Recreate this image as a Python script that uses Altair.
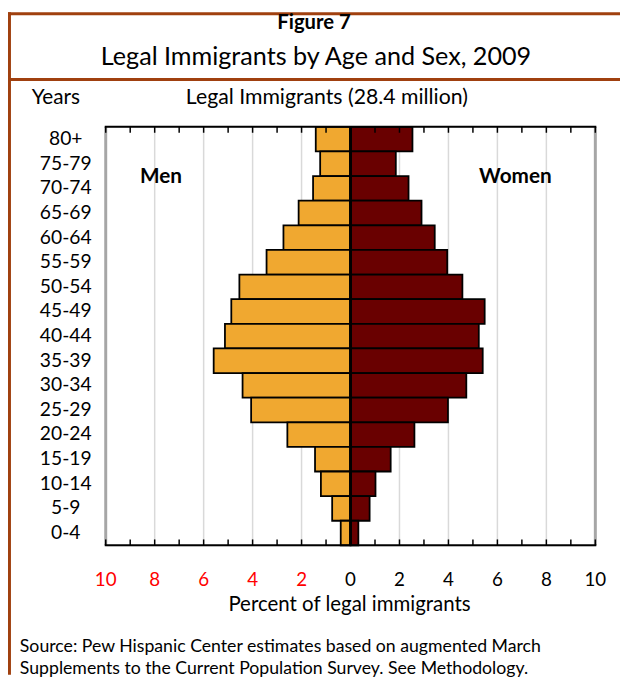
import altair as alt
import pandas as pd

# ---- data ----
ages = ["80+", "75-79", "70-74", "65-69", "60-64", "55-59", "50-54", "45-49",
        "40-44", "35-39", "30-34", "25-29", "20-24", "15-19", "10-14", "5-9", "0-4"]
men = [1.42, 1.24, 1.53, 2.12, 2.74, 3.43, 4.54, 4.87, 5.13, 5.59, 4.41, 4.06,
       2.58, 1.45, 1.21, 0.75, 0.40]
women = [2.53, 1.85, 2.37, 2.90, 3.44, 3.95, 4.57, 5.48, 5.24, 5.40, 4.73, 3.98,
         2.61, 1.64, 1.02, 0.78, 0.32]
label_values = [-10, -8, -6, -4, -2, 0, 2, 4, 6, 8, 10]
grid_values = [-8, -6, -4, -2, 2, 4, 6, 8]
border_values = [-10, 10]
tick_values = list(range(-10, 11))

TITLE = "Figure 7"
SUBTITLE = "Legal Immigrants by Age and Sex, 2009"
Y_TITLE = "Years"
TOP_TITLE = "Legal Immigrants (28.4 million)"
X_TITLE = "Percent of legal immigrants"
SOURCE_1 = "Source: Pew Hispanic Center estimates based on augmented March"
SOURCE_2 = "Supplements to the Current Population Survey. See Methodology."

FONT = "Lato"
W, H = 496, 424
FRAME = "#A0400F"

bars = pd.DataFrame(
    [{"age": a, "sex": "Men", "value": -v} for a, v in zip(ages, men)]
    + [{"age": a, "sex": "Women", "value": v} for a, v in zip(ages, women)]
)

xscale = alt.Scale(domain=[-10, 10], nice=False, zero=False)
yscale = alt.Scale(paddingInner=0, paddingOuter=0)

grid = alt.Chart(pd.DataFrame({"v": grid_values})).mark_rule(
    color="#d9d9d9", strokeWidth=1.5
).encode(x=alt.X("v:Q", scale=xscale, axis=None))

bar = alt.Chart(bars).mark_bar(stroke="black", strokeWidth=1.8).encode(
    x=alt.X("value:Q", scale=xscale, stack=None, axis=None),
    y=alt.Y("age:N", sort=ages, scale=yscale,
            axis=alt.Axis(title=None, ticks=False, domain=False, labelAlign="center",
                          labelPadding=41, labelFontSize=19.5, labelFont=FONT,
                          labelColor="black")),
    color=alt.Color("sex:N", scale=alt.Scale(domain=["Men", "Women"],
                                             range=["#F0A830", "#690000"]), legend=None),
)

borders = alt.Chart(pd.DataFrame({"v": border_values})).mark_rule(
    color="#a6a6a6", strokeWidth=3
).encode(x=alt.X("v:Q", scale=xscale, axis=None))

zero = alt.Chart(pd.DataFrame({"v": [0]})).mark_rule(color="black", strokeWidth=3).encode(
    x=alt.X("v:Q", scale=xscale, axis=None))

ticks_top = alt.Chart(pd.DataFrame({"v": tick_values})).mark_rule(color="black", strokeWidth=1.5).encode(
    x=alt.X("v:Q", scale=xscale, axis=None), y=alt.value(0), y2=alt.value(6))
ticks_bot = alt.Chart(pd.DataFrame({"v": tick_values})).mark_rule(color="black", strokeWidth=1.5).encode(
    x=alt.X("v:Q", scale=xscale, axis=None), y=alt.value(H - 6), y2=alt.value(H))

tick_labels = alt.Chart(pd.DataFrame({"v": label_values})).transform_calculate(
    lab="abs(datum.v)"
).mark_text(font=FONT, fontSize=19, baseline="middle", align="center").encode(
    x=alt.X("v:Q", scale=xscale, axis=None),
    y=alt.value(459),
    text="lab:N",
    color=alt.condition("datum.v < 0", alt.value("#ff0000"), alt.value("#000000")),
)

one = pd.DataFrame({"d": [0]})
top_line = alt.Chart(one).mark_rule(color="black", strokeWidth=2).encode(
    x=alt.value(-1), x2=alt.value(W + 1), y=alt.value(0))
bot_line = alt.Chart(one).mark_rule(color="black", strokeWidth=2).encode(
    x=alt.value(-1), x2=alt.value(W + 1), y=alt.value(H))

frame_top = alt.Chart(one).mark_rule(color=FRAME, strokeWidth=3).encode(
    x=alt.value(-99), x2=alt.value(W + 25), y=alt.value(-114.5))
frame_mid = alt.Chart(one).mark_rule(color=FRAME, strokeWidth=3).encode(
    x=alt.value(-99), x2=alt.value(W + 25), y=alt.value(-48))
frame_left = alt.Chart(one).mark_rule(color=FRAME, strokeWidth=3).encode(
    x=alt.value(-97.5), y=alt.value(-116), y2=alt.value(H + 131))


def txt(s, x, y, size, align="center", weight="normal"):
    return alt.Chart(pd.DataFrame({"t": [s]})).mark_text(
        font=FONT, fontSize=size, align=align, baseline="middle",
        fontWeight=weight, color="black"
    ).encode(text="t:N", x=alt.value(x), y=alt.value(y))


texts = [
    txt(TITLE, 211, -105, 20.5, weight="bold"),
    txt(SUBTITLE, 213, -71, 25.5),
    txt(Y_TITLE, -75, -29, 21, align="left"),
    txt(TOP_TITLE, 224, -29, 21.5),
    txt("Men", 56, 51, 21, weight="bold"),
    txt("Women", 415, 51, 21, weight="bold"),
    txt(X_TITLE, 247, 484, 20.7),
    txt(SOURCE_1, -87, 527, 17.9, align="left"),
    txt(SOURCE_2, -87, 549, 17.9, align="left"),
]

chart = alt.layer(
    grid, bar, borders, zero, ticks_top, ticks_bot, tick_labels, top_line, bot_line,
    frame_top, frame_mid, frame_left, *texts
).properties(
    width=W, height=H,
    autosize=alt.AutoSizeParams(type="none"),
    padding={"left": 99, "top": 116, "right": 25, "bottom": 131},
).configure_view(stroke=None).configure(background="white")

chart.save("out.html", embed_options={"renderer": "svg", "actions": False})
